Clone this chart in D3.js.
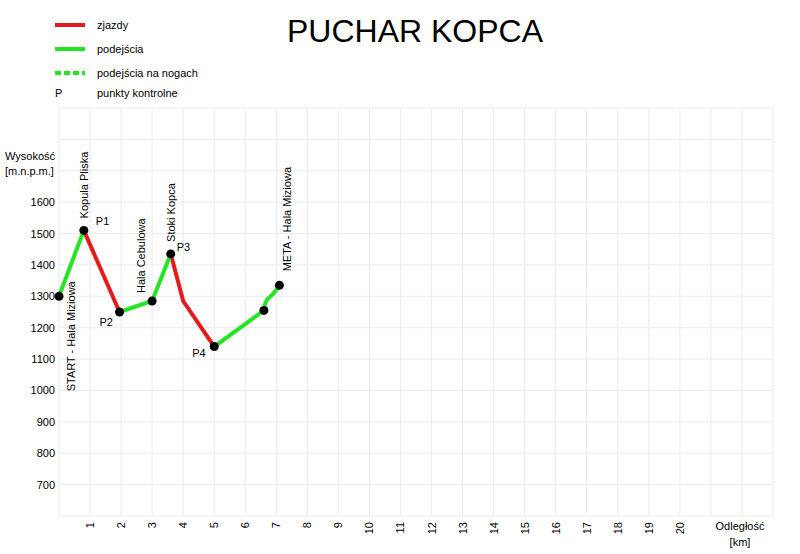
<!DOCTYPE html><html><head><meta charset="utf-8"><script src="https://cdn.jsdelivr.net/npm/d3@7"></script>
<style>body{margin:0;background:#fff}text{font-family:Arial,"Liberation Sans",sans-serif}</style></head><body><svg id="c" width="800" height="554"></svg>
<script>
const xTicks=d3.range(1,21);
const yTicks=[700,800,900,1000,1100,1200,1300,1400,1500,1600];
const descents=[[[0.8,1510],[1.95,1250]],[[3.6,1435],[4,1285],[5,1140]]];
const climbs=[[[0,1300],[0.8,1510]],[[1.95,1250],[3,1285],[3.6,1435]],[[5,1140],[6.6,1255]]];
const walks=[[[6.6,1255],[6.65,1290],[6.9,1305],[7.1,1335]]];
const markers=[[0,1300],[0.8,1510],[1.95,1250],[3,1285],[3.6,1435],[5,1140],[6.6,1255],[7.1,1335]];
const pLabels=[{t:"P1",x:0.8,y:1510,dx:12,dy:-5},{t:"P2",x:1.95,y:1250,dx:-20,dy:14},{t:"P3",x:3.6,y:1435,dx:6,dy:-3},{t:"P4",x:5,y:1140,dx:-22,dy:10}];
const places=[{t:"Kopula Pliska",x:0.8,y:1510,dx:4,dy:-12,anchor:"start"},{t:"START - Hala Miziowa",x:0,y:1300,dx:16,dy:5,anchor:"end",below:true},{t:"Hala Cebulowa",x:3,y:1285,dx:-7,dy:-8,anchor:"start"},{t:"Stoki Kopca",x:3.6,y:1435,dx:4,dy:-12,anchor:"start"},{t:"META - Hala Miziowa",x:7.1,y:1335,dx:12,dy:-14,anchor:"start"}];
const svg=d3.select("#c");
const x=d3.scaleLinear().domain([0,23]).range([59,773]);
const y=d3.scaleLinear().domain([600,1900]).range([516,108]);
const g=svg.append("g");
g.selectAll(".vx").data(d3.range(0,24)).join("line").attr("x1",d=>x(d)).attr("x2",d=>x(d)).attr("y1",y(1900)).attr("y2",y(600)).attr("stroke","#ebebeb");
g.selectAll(".hy").data(d3.range(600,2000,100)).join("line").attr("x1",x(0)).attr("x2",x(23)).attr("y1",d=>y(d)).attr("y2",d=>y(d)).attr("stroke","#ebebeb");
svg.selectAll(".yl").data(yTicks).join("text").attr("x",55).attr("y",d=>y(d)+4).attr("text-anchor","end").attr("font-size",11).text(d=>d);
svg.selectAll(".xl").data(xTicks).join("text").attr("transform",d=>`translate(${x(d)+4},522) rotate(-90)`).attr("text-anchor","end").attr("font-size",11).text(d=>d);
svg.append("text").attr("x",740).attr("y",530).attr("text-anchor","middle").attr("font-size",11).text("Odległość");
svg.append("text").attr("x",740).attr("y",546).attr("text-anchor","middle").attr("font-size",11).text("[km]");
svg.append("text").attr("x",5).attr("y",160).attr("font-size",11).text("Wysokość");
svg.append("text").attr("x",5).attr("y",175).attr("font-size",11).text("[m.n.p.m.]");
const line=d3.line().x(d=>x(d[0])).y(d=>y(d[1]));
svg.selectAll(".d").data(descents).join("path").attr("d",line).attr("fill","none").attr("stroke","#e41a1c").attr("stroke-width",4);
svg.selectAll(".c").data(climbs).join("path").attr("d",line).attr("fill","none").attr("stroke","#22e622").attr("stroke-width",4);
svg.selectAll(".w").data(walks).join("path").attr("d",d3.line().x(d=>x(d[0])).y(d=>y(d[1])).curve(d3.curveBasis)).attr("fill","none").attr("stroke","#22e622").attr("stroke-width",4);
svg.selectAll(".m").data(markers).join("circle").attr("cx",d=>x(d[0])).attr("cy",d=>y(d[1])).attr("r",4.5).attr("fill","#000");
svg.selectAll(".p").data(pLabels).join("text").attr("x",d=>x(d.x)+d.dx).attr("y",d=>y(d.y)+d.dy).attr("font-size",11).text(d=>d.t);
svg.selectAll(".pl").data(places).join("text").attr("transform",d=>`translate(${x(d.x)+d.dx},${y(d.y)+(d.below?95:d.dy)}) rotate(-90)`).attr("text-anchor","start").attr("font-size",11).text(d=>d.t);
svg.append("text").attr("x",415).attr("y",42).attr("text-anchor","middle").attr("font-size",32).text("PUCHAR KOPCA");
const leg=[{t:"zjazdy",c:"#e41a1c",dash:null},{t:"podejścia",c:"#22e622",dash:null},{t:"podejścia na nogach",c:"#22e622",dash:"6,3"}];
leg.forEach((l,i)=>{const yy=25+i*24;svg.append("line").attr("x1",55).attr("x2",85).attr("y1",yy).attr("y2",yy).attr("stroke",l.c).attr("stroke-width",4).attr("stroke-dasharray",l.dash);svg.append("text").attr("x",97).attr("y",yy+4).attr("font-size",11).text(l.t);});
svg.append("text").attr("x",55).attr("y",97).attr("font-size",11).text("P");
svg.append("text").attr("x",97).attr("y",97).attr("font-size",11).text("punkty kontrolne");
</script></body></html>
